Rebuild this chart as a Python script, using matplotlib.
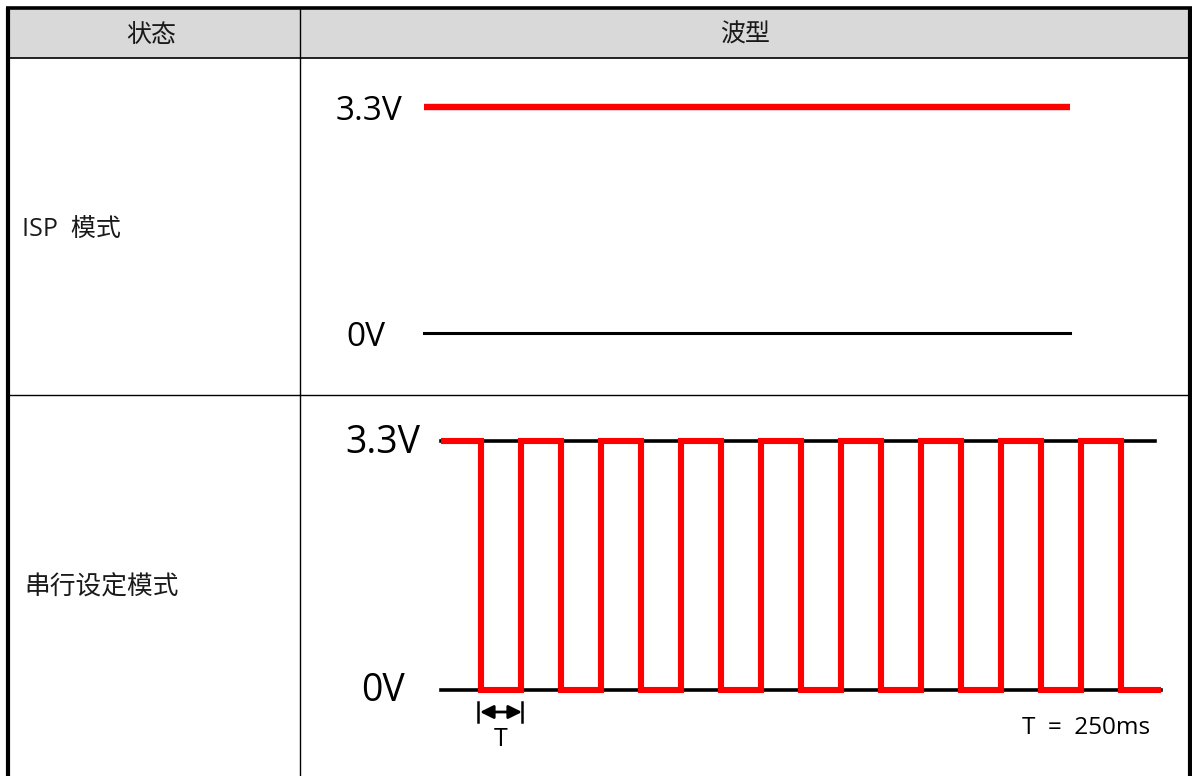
import matplotlib
matplotlib.use("Agg")
import matplotlib.pyplot as plt
from matplotlib.patches import Rectangle

plt.rcParams['font.family'] = ['Open Sans', 'Noto Sans CJK SC', 'DejaVu Sans']

# table text
header_labels = ["状态", "波型"]
row_labels = ["ISP  模式", "串行设定模式"]

# waveform data
period_ms = 250
high_v = 3.3
isp_t = [0, 4000]          # ISP mode: held high
isp_v = [3.3, 3.3]
# serial setting mode: one level per half period T
serial_levels = [3.3, 0, 3.3, 0, 3.3, 0, 3.3, 0, 3.3,
                 0, 3.3, 0, 3.3, 0, 3.3, 0, 3.3, 0]
volt_labels = ["3.3V", "0V"]
period_note = "T  =  250ms"

W, H = 1192, 776
fig = plt.figure(figsize=(W / 100, H / 100), dpi=100)

# full-figure axes in pixel coordinates for the table frame
tab = fig.add_axes([0, 0, 1, 1])
tab.set_xlim(0, W)
tab.set_ylim(H, 0)
tab.axis('off')

col_x = 300
hdr_bot = 58
row_y = 395
tab.add_patch(Rectangle((8, 8), W - 8 - 2, hdr_bot - 8, facecolor='#d9d9d9', edgecolor='none'))
# thick outer frame (no bottom, table keeps going)
tab.plot([8, 8], [H + 5, 7.5], color='black', lw=3.0, solid_capstyle='butt')
tab.plot([1190, 1190], [H + 5, 7.5], color='black', lw=3.0, solid_capstyle='butt')
tab.plot([6, 1192], [7.5, 7.5], color='black', lw=2.6, solid_capstyle='butt')
# thin inner lines
tab.plot([8, 1190], [hdr_bot, hdr_bot], color='black', lw=1.2)
tab.plot([8, 1190], [row_y, row_y], color='black', lw=1.0)
tab.plot([col_x, col_x], [8, H], color='black', lw=1.0)

tab.text(151, 35, header_labels[0], fontsize=18, ha='center', va='center', color='#1a1a1a')
tab.text(745, 35, header_labels[1], fontsize=18, ha='center', va='center', color='#1a1a1a')
tab.text(22, 230, row_labels[0], fontsize=18, ha='left', va='center', color='#1a1a1a')
tab.text(24, 588, row_labels[1], fontsize=18.5, ha='left', va='center', color='#1a1a1a')

# ISP waveform axes: 3.3V at y=107, 0V at y=333, x from 424 to 1070
ax1 = fig.add_axes([424 / W, (H - 333) / H, 646 / W, (333 - 107) / H])
ax1.set_xlim(isp_t[0], isp_t[-1])
ax1.set_ylim(0, high_v)
ax1.axis('off')
ipx = isp_t[-1] / 646.0
ipv = high_v / 226.0
ax1.plot([isp_t[0], isp_t[-1]], [0, 0], color='black', lw=2.2, clip_on=False)
ax1.plot(isp_t, isp_v, color='#ff0000', lw=4.6, clip_on=False, solid_capstyle='butt')
ax1.text(-22 * ipx, high_v - 5 * ipv, volt_labels[0], fontsize=24, ha='right', va='center')
ax1.text(-39 * ipx, -4 * ipv, volt_labels[1], fontsize=24, ha='right', va='center')

# serial waveform axes: 3.3V at y=441, 0V at y=690, x from 441 to 1161
n = len(serial_levels)
t_end = n * period_ms
ax2 = fig.add_axes([441 / W, (H - 690) / H, 720 / W, (690 - 441) / H])
ax2.set_xlim(0, t_end)
ax2.set_ylim(0, high_v)
ax2.axis('off')
px = period_ms / 40.0  # ms per pixel
pv = high_v / 249.0    # volts per pixel
ax2.plot([0, t_end - 6 * px], [high_v, high_v], color='black', lw=2.6, clip_on=False)
ax2.plot([0, t_end], [0, 0], color='black', lw=2.6, clip_on=False)
st = [i * period_ms for i in range(n + 1)]
sv = serial_levels + [serial_levels[-1]]
ax2.step(st, sv, where='post', color='#ff0000', lw=4.4, clip_on=False,
         solid_joinstyle='miter', solid_capstyle='butt')
ax2.text(-21 * px, high_v - 2 * pv, volt_labels[0], fontsize=27, ha='right', va='center')
ax2.text(-36 * px, -1 * pv, volt_labels[1], fontsize=27, ha='right', va='center')

# T marker under the first low pulse
ya = -22 * pv
ax2.annotate('', xy=(period_ms - 1 * px, ya), xytext=(2 * period_ms + 1 * px, ya),
             arrowprops=dict(arrowstyle='<|-|>', color='black', lw=2.0,
                             mutation_scale=20, shrinkA=0, shrinkB=0),
             annotation_clip=False)
for xb in [period_ms - 3 * px, 2 * period_ms + 1 * px]:
    ax2.plot([xb, xb], [ya - 10 * pv, ya + 10 * pv], color='black', lw=1.8, clip_on=False)
ax2.text(1.5 * period_ms, -49 * pv, "T", fontsize=18, ha='center', va='center')
ax2.text(t_end - 11 * px, -38 * pv, period_note, fontsize=17.5, ha='right', va='center')

fig.savefig("out.png", dpi=100)
